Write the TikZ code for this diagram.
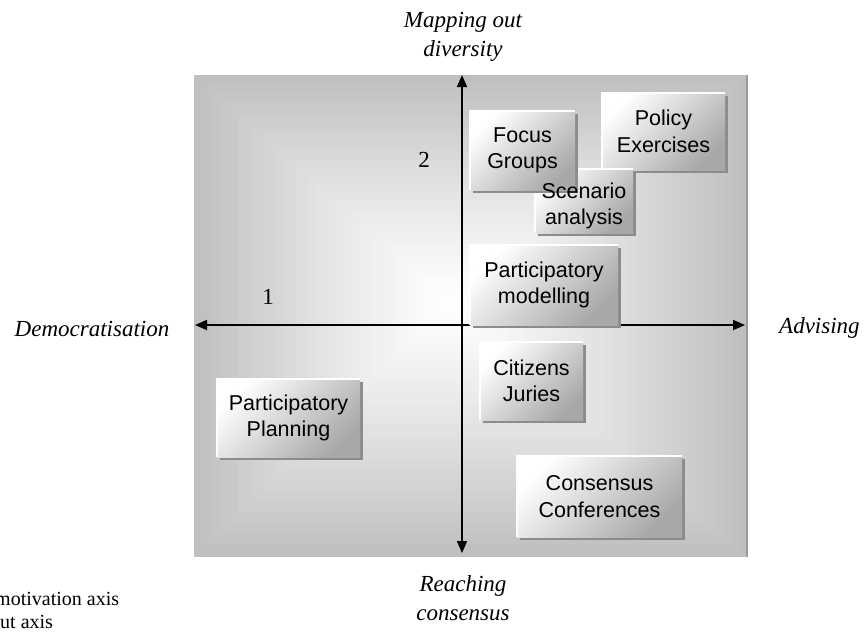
\documentclass[tikz,border=0pt]{standalone}
\usepackage{fontspec}
\setmainfont{Liberation Serif}
\setsansfont{Liberation Sans}
\usetikzlibrary{arrows.meta,shadows}

\tikzset{
  tilefont/.style={font=\sffamily\fontsize{21.5}{26.5}\selectfont},
  tile/.style={inner sep=0pt, align=center, tilefont,
    top color=white, bottom color=black!34, shading angle=45,
    drop shadow={shadow xshift=3pt, shadow yshift=-3pt, fill=black!45, opacity=1}},
  tileedge/.style={white, line width=1.6pt},
  axislabel/.style={font=\itshape\fontsize{23}{29}\selectfont, align=center, inner sep=0pt},
  plainlabel/.style={font=\fontsize{23}{28}\selectfont, inner sep=0pt},
  legendtext/.style={font=\fontsize{20}{24}\selectfont, inner sep=0pt},
  axisline/.style={line width=1.7pt, {Triangle[length=12pt,width=10pt]}-{Triangle[length=12pt,width=10pt]}},
}

\newcommand{\tileframe}[1]{\draw[tileedge] (#1.south west) -- (#1.north west) -- (#1.north east);}

\begin{document}
\begin{tikzpicture}[x=1pt,y=-1pt]
  \useasboundingbox (0,0) rectangle (866,633);

  % panel with a rectangular grey-to-white gradient
  \def\bgL{194}\def\bgR{747}\def\bgT{75}\def\bgB{557}
  \def\cx{448}\def\cy{302}
  \foreach \i in {0,...,39}{
    \pgfmathsetmacro\f{1-\i/40}
    \pgfmathsetmacro\p{25*\f^1.2}
    \fill[black!\p] ({\cx-\f*(\cx-\bgL)},{\cy-\f*(\cy-\bgT)})
      rectangle ({\cx+\f*(\bgR-\cx)},{\cy+\f*(\bgB-\cy)});
  }
  \draw[black!40, line width=1.4pt] (\bgR,\bgT) -- (\bgR,\bgB);

  % axes
  \coordinate (west) at (195,325);
  \coordinate (east) at (745,325);
  \coordinate (north) at (462,75);
  \coordinate (south) at (462,553);
  \draw[axisline] (west) -- (east);
  \draw[axisline] (south) -- (north);

  % axis labels
  \node[axislabel] (top) at (463,37) {Mapping out\\diversity};
  \node[axislabel] (bottom) at (463,598) {Reaching\\consensus};
  \node[axislabel] (left) at (92,329) {Democratisation};
  \node[axislabel, anchor=west] (right) at (779,328) {Advising};
  \node[plainlabel] (one) at (268,297) {1};
  \node[plainlabel] (two) at (424,160) {2};

  % legend lines
  \node[legendtext, anchor=base west] (legA) at (-5,605) {motivation axis};
  \node[legendtext, anchor=base west] (legB) at (0,628) {ut axis};

  % method boxes
  \node[tile, minimum width=123pt, minimum height=77pt] (policy) at (663.5,131.5) {Policy\\Exercises};
  \tileframe{policy}
  \node[tile, minimum width=98pt, minimum height=64pt] (scenario) at (584,201) {};
  \tileframe{scenario}
  \node[tile, minimum width=105pt, minimum height=79pt] (focus) at (522.5,150.5) {Focus\\Groups};
  \tileframe{focus}
  \node[inner sep=0pt, align=center, tilefont] (scenariotext) at (584,206) {Scenario\\analysis};

  \node[tile, minimum width=148pt, minimum height=80pt] (modelling) at (544,285) {Participatory\\modelling};
  \tileframe{modelling}
  \node[tile, minimum width=103pt, minimum height=78pt] (juries) at (531.5,381) {Citizens\\Juries};
  \tileframe{juries}
  \node[tile, minimum width=143pt, minimum height=78pt] (planning) at (288.5,418) {Participatory\\Planning};
  \tileframe{planning}
  \node[tile, minimum width=165pt, minimum height=81pt] (conferences) at (599.5,496.5) {Consensus\\Conferences};
  \tileframe{conferences}
\end{tikzpicture}
\end{document}
